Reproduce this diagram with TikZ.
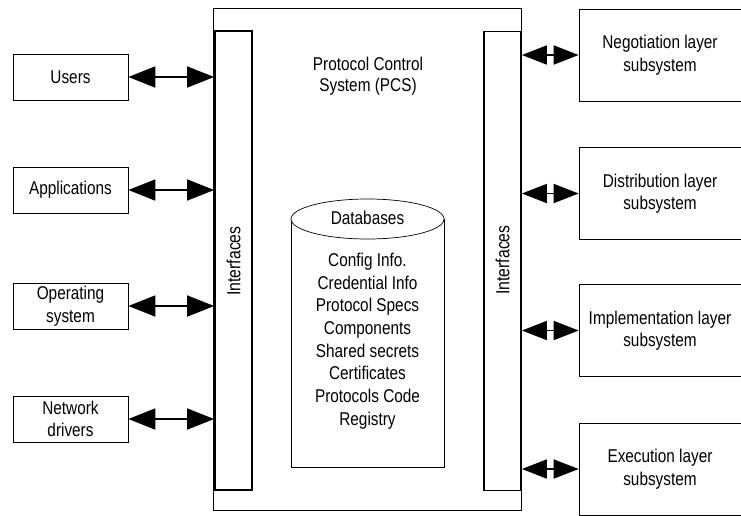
\documentclass[tikz,border=0pt]{standalone}
\usepackage{fontspec}
\setmainfont{Liberation Sans}[FakeStretch=0.83]
\usetikzlibrary{arrows.meta}
\begin{document}
\begin{tikzpicture}[x=1pt,y=-1pt,
  txt/.style={font=\fontsize{18.5}{22.5}\selectfont,align=center,inner sep=0pt},
  leftbox/.style={draw,line width=0.7pt,minimum width=115pt,minimum height=46pt,txt},
  rightbox/.style={draw,line width=0.7pt,minimum width=162pt,minimum height=92pt,txt},
  bar/.style={draw,line width=1.8pt,minimum width=37pt,minimum height=459pt,inner sep=0pt},
  larrow/.style={line width=1.8pt,{Triangle[length=27pt,width=21pt]}-{Triangle[length=27pt,width=21pt]}},
  rarrow/.style={line width=1.8pt,{Triangle[length=25pt,width=19pt]}-{Triangle[length=25pt,width=19pt]}}]
\useasboundingbox (0,0) rectangle (741,515);
% outer PCS box
\node[draw,line width=0.7pt,minimum width=308pt,minimum height=502pt,inner sep=0pt] (pcs) at (367.5,259) {};
% interface bars
\node[bar] (lbar) at (233.5,260.5) {};
\node[bar] (rbar) at (502.5,261) {};
\node[txt,rotate=90,font=\fontsize{19}{22}\selectfont] (lint) at (233.5,261) {Interfaces};
\node[txt,rotate=90,font=\fontsize{19}{22}\selectfont] (rint) at (502.5,260) {Interfaces};
\node[txt,font=\fontsize{18.5}{21}\selectfont] (title) at (368,76) {Protocol Control\\System (PCS)};
% left boxes
\node[leftbox] (users) at (70.5,77) {Users};
\node[leftbox] (apps) at (70.5,190) {Applications};
\node[leftbox] (os) at (70.5,306) {Operating\\system};
\node[leftbox] (net) at (70.5,419) {Network\\drivers};
% right boxes
\node[rightbox] (neg) at (660,55) {Negotiation layer\\subsystem};
\node[rightbox] (dist) at (660,193.5) {Distribution layer\\subsystem};
\node[rightbox] (impl) at (660,330.5) {Implementation layer\\subsystem};
\node[rightbox] (exec) at (660,469) {Execution layer\\subsystem};
% database cylinder
\draw[line width=0.7pt] (291,219) -- (291,467) -- (444,467) -- (444,219);
\draw[line width=0.7pt,fill=white] (367.5,219) ellipse [x radius=76.5,y radius=20];
\node[txt] (dbt) at (367.5,218) {Databases};
\node[txt,font=\fontsize{18.5}{22.7}\selectfont] (dbitems) at (367.5,341) {Config Info.\\Credential Info\\Protocol Specs\\Components\\Shared secrets\\Certificates\\Protocols Code\\Registry};
% connectors
\draw[larrow] (users.east) -- (users.east -| lbar.west);
\draw[larrow] (apps.east) -- (apps.east -| lbar.west);
\draw[larrow] (os.east) -- (os.east -| lbar.west);
\draw[larrow] (net.east) -- (net.east -| lbar.west);
\draw[rarrow] (neg.west -| rbar.east) -- (neg.west);
\draw[rarrow] (dist.west -| rbar.east) -- (dist.west);
\draw[rarrow] (impl.west -| rbar.east) -- (impl.west);
\draw[rarrow] (exec.west -| rbar.east) -- (exec.west);
\end{tikzpicture}
\end{document}
